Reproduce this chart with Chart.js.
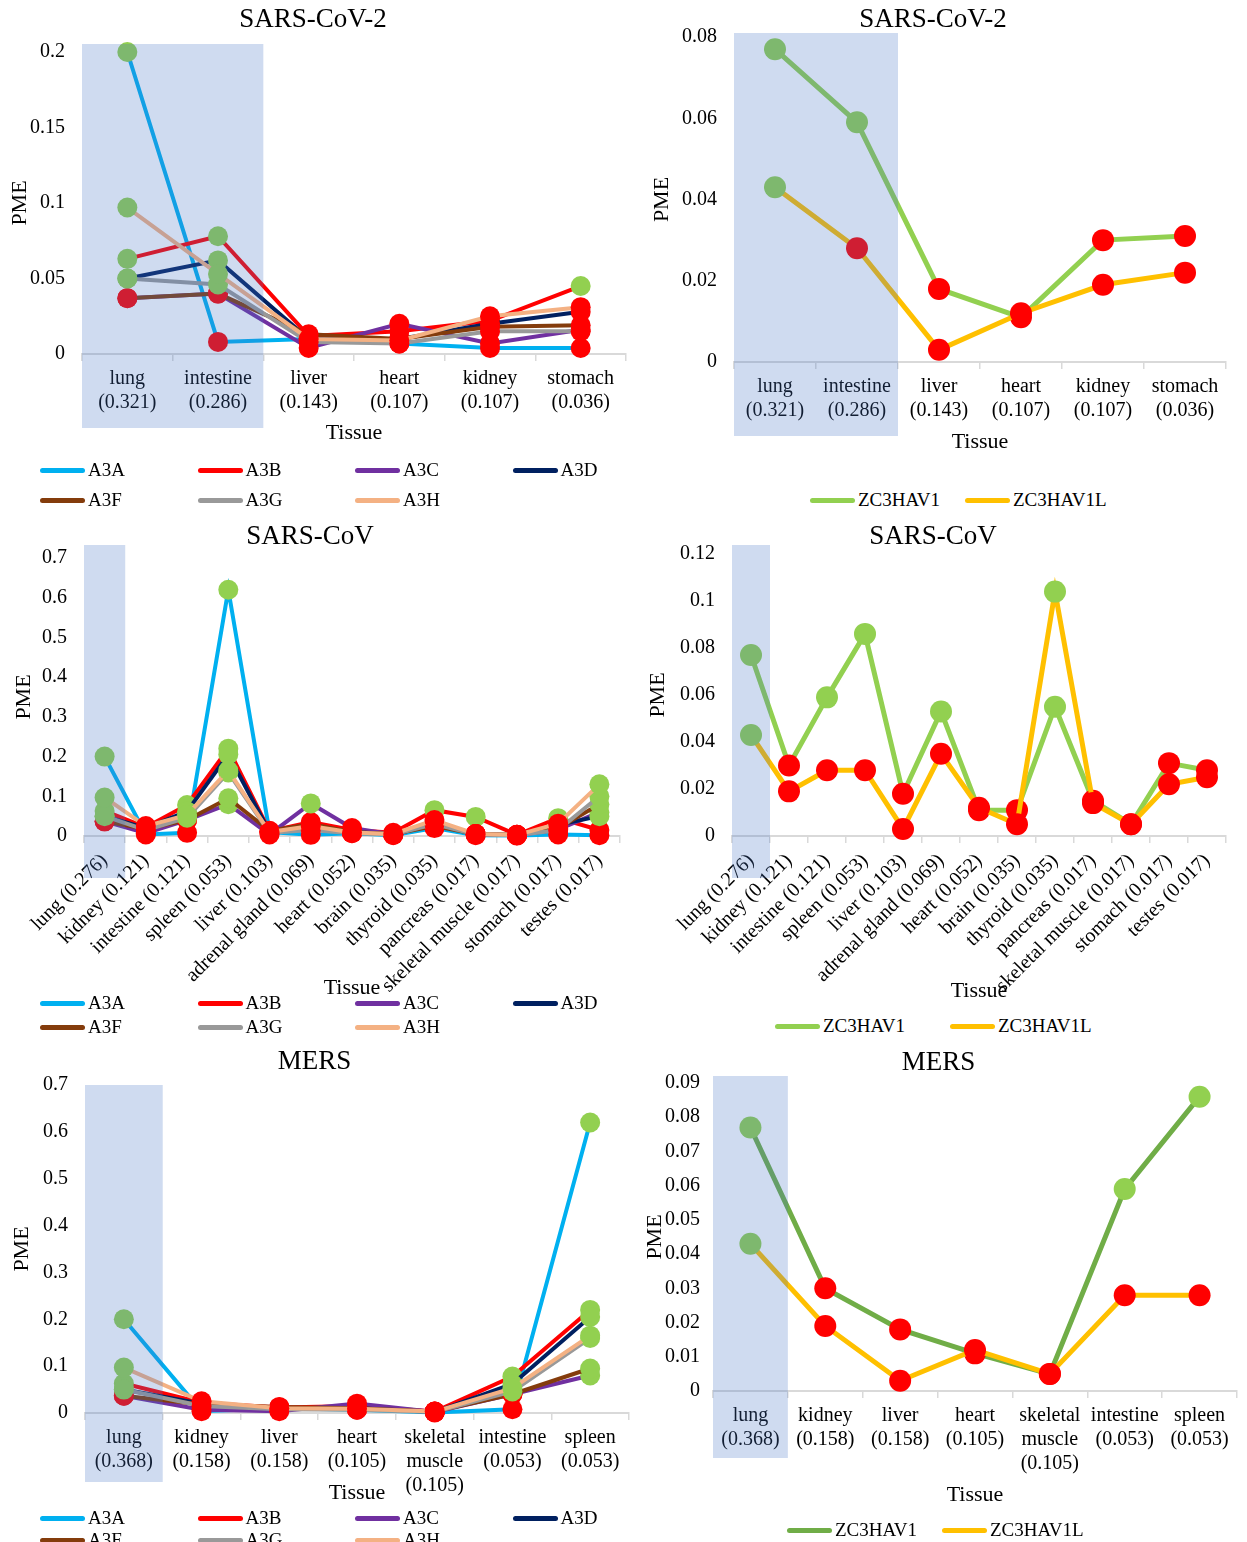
<!DOCTYPE html>
<html>
<head>
<meta charset="utf-8">
<script src="https://cdn.jsdelivr.net/npm/chart.js@4.4.0/dist/chart.umd.min.js"></script>
<style>
  body { margin: 0; background: #fff; width: 1247px; height: 1542px; position: relative; overflow: hidden;
         font-family: "Liberation Serif", "Times New Roman", serif; }
  .panel { position: absolute; }
  .legend { position: absolute; display: grid; font-size: 19px; color: #000; }
  .legend .item { display: flex; align-items: center; white-space: nowrap; }
  .legend .item i { display: inline-block; width: 45px; height: 5px; border-radius: 3px; margin-right: 3px; }
</style>
</head>
<body>
<div class="panel" style="left:0;top:0;width:630px;height:452px"><canvas id="c1"></canvas></div>
<div class="panel" style="left:640px;top:0;width:607px;height:456px"><canvas id="c2"></canvas></div>
<div class="panel" style="left:0;top:518px;width:630px;height:482px"><canvas id="c3"></canvas></div>
<div class="panel" style="left:640px;top:518px;width:607px;height:482px"><canvas id="c4"></canvas></div>
<div class="panel" style="left:0;top:1042px;width:630px;height:465px"><canvas id="c5"></canvas></div>
<div class="panel" style="left:640px;top:1042px;width:607px;height:470px"><canvas id="c6"></canvas></div>

<div class="legend" id="l1" style="left:40px;top:455px;grid-template-columns:repeat(4,157.5px);grid-auto-rows:30px"></div>
<div class="legend" id="l2" style="left:810px;top:488px;grid-template-columns:repeat(2,155px);grid-auto-rows:24px"></div>
<div class="legend" id="l3" style="left:40px;top:991px;grid-template-columns:repeat(4,157.5px);grid-auto-rows:24px"></div>
<div class="legend" id="l4" style="left:775px;top:1014px;grid-template-columns:repeat(2,175px);grid-auto-rows:24px"></div>
<div class="legend" id="l5" style="left:40px;top:1507px;grid-template-columns:repeat(4,157.5px);grid-auto-rows:22px"></div>
<div class="legend" id="l6" style="left:787px;top:1518px;grid-template-columns:repeat(2,155px);grid-auto-rows:24px"></div>

<script>
// tissue order used by the value arrays below
const tissues = ["lung", "kidney", "intestine", "spleen", "liver", "adrenal gland", "heart",
                 "brain", "thyroid", "pancreas", "skeletal muscle", "stomach", "testes"];

// PME per tissue (same order as tissues)
const A3A = [0.200, 0.004, 0.008, 0.620, 0.010, 0.003, 0.007, 0.002, 0.020, 0.002, 0.001, 0.004, 0.002];
const A3B = [0.063, 0.022, 0.078, 0.220, 0.012, 0.035, 0.015, 0.008, 0.065, 0.048, 0.003, 0.045, 0.015];
const A3C = [0.037, 0.007, 0.040, 0.080, 0.004, 0.082, 0.020, 0.004, 0.030, 0.005, 0.002, 0.016, 0.060];
const A3D = [0.050, 0.020, 0.062, 0.205, 0.010, 0.020, 0.010, 0.004, 0.030, 0.005, 0.002, 0.028, 0.050];
const A3F = [0.037, 0.018, 0.040, 0.095, 0.013, 0.030, 0.010, 0.005, 0.025, 0.005, 0.003, 0.019, 0.080];
const A3G = [0.050, 0.015, 0.046, 0.160, 0.008, 0.015, 0.007, 0.004, 0.030, 0.004, 0.002, 0.015, 0.100];
const A3H = [0.097, 0.025, 0.053, 0.165, 0.010, 0.025, 0.009, 0.005, 0.040, 0.005, 0.003, 0.031, 0.130];
const ZC3HAV1  = [0.077, 0.030, 0.059, 0.086, 0.018, 0.053, 0.011, 0.011, 0.055, 0.015, 0.005, 0.031, 0.028];
const ZC3HAV1L = [0.043, 0.019, 0.028, 0.028, 0.003, 0.035, 0.012, 0.005, 0.104, 0.014, 0.005, 0.022, 0.025];

const a3Genes = ["A3A", "A3B", "A3C", "A3D", "A3F", "A3G", "A3H"];
const a3Values = [A3A, A3B, A3C, A3D, A3F, A3G, A3H];
const a3Colors = ["#00b0f0", "#ff0000", "#7030a0", "#002060", "#843c0c", "#999999", "#f4b183"];

// tissues and weights shown in each virus panel
const cov2Tissues = ["lung", "intestine", "liver", "heart", "kidney", "stomach"];
const cov2Weights = ["0.321", "0.286", "0.143", "0.107", "0.107", "0.036"];
const covTissues = ["lung", "kidney", "intestine", "spleen", "liver", "adrenal gland", "heart",
                    "brain", "thyroid", "pancreas", "skeletal muscle", "stomach", "testes"];
const covWeights = ["0.276", "0.121", "0.121", "0.053", "0.103", "0.069", "0.052",
                    "0.035", "0.035", "0.017", "0.017", "0.017", "0.017"];
const mersTissues = ["lung", "kidney", "liver", "heart", "skeletal muscle", "intestine", "spleen"];
const mersWeights = ["0.368", "0.158", "0.158", "0.105", "0.105", "0.053", "0.053"];

const CUT = 0.042;  // markers above this are green
const GREEN = "#92d050", RED = "#ff0000";

Chart.defaults.font.family = '"Liberation Serif", "Times New Roman", serif';
Chart.defaults.color = "#000";

// translucent blue band over the top-weighted tissues
const shadePlugin = {
  id: "shade",
  afterDatasetsDraw(chart, args, opts) {
    const x = chart.scales.x, area = chart.chartArea, ctx = chart.ctx;
    const half = (x.getPixelForValue(1) - x.getPixelForValue(0)) / 2;
    const right = x.getPixelForValue(opts.count - 1) + half;
    ctx.save();
    ctx.fillStyle = "rgba(68,114,196,0.26)";
    ctx.fillRect(area.left, area.top - opts.above, right - area.left,
                 area.bottom - area.top + opts.above + opts.below);
    ctx.restore();
  }
};

function val(arr, name) { return arr[tissues.indexOf(name)]; }

function stackedLabels(names, weights) {
  return names.map((n, i) => n.split(" ").concat("(" + weights[i] + ")"));
}

function a3Sets(names) {
  return a3Genes.map((g, i) => ({
    label: g,
    data: names.map(n => val(a3Values[i], n)),
    borderColor: a3Colors[i],
    backgroundColor: a3Colors[i],
    borderWidth: 4,
    pointRadius: 10,
    order: a3Genes.length - i
  }));
}

function zcSets(names, mainColor) {
  return [
    { label: "ZC3HAV1", data: names.map(n => val(ZC3HAV1, n)), borderColor: mainColor, order: 2 },
    { label: "ZC3HAV1L", data: names.map(n => val(ZC3HAV1L, n)), borderColor: "#ffc000", order: 1 }
  ].map(d => Object.assign(d, { backgroundColor: d.borderColor, borderWidth: 5, pointRadius: 11 }));
}

function makeChart(id, cfg) {
  const el = document.getElementById(id);
  const W = el.parentNode.clientWidth, H = el.parentNode.clientHeight;
  const g = cfg.geom;
  const titleLH = 27 * 1.2, axLH = 22 * 1.2;
  cfg.datasets.forEach(d => {
    d.clip = false;
    d.tension = 0;
    d.pointBorderWidth = 0;
    d.pointBackgroundColor = c => (c.raw > CUT ? GREEN : RED);
  });
  return new Chart(el, {
    type: "line",
    data: { labels: cfg.labels, datasets: cfg.datasets },
    options: {
      responsive: true,
      maintainAspectRatio: false,
      animation: false,
      events: [],
      layout: { autoPadding: false, padding: { left: 0, top: 0, bottom: 0, right: W - g.right } },
      plugins: {
        legend: { display: false },
        tooltip: { enabled: false },
        title: {
          display: true,
          text: cfg.title,
          color: "#000",
          font: { size: 27, weight: "normal" },
          padding: { top: g.titleY - titleLH / 2, bottom: g.top - g.titleY - titleLH / 2 }
        },
        shade: cfg.shade
      },
      scales: {
        x: {
          offset: true,
          grid: { display: true, drawOnChartArea: false, drawTicks: true, tickLength: 7,
                  offset: true, color: "#d9d9d9", lineWidth: 1.5 },
          border: { display: true, color: "#d9d9d9", width: 2 },
          ticks: { font: { size: 20 }, color: "#000", padding: 6, autoSkip: false,
                   maxRotation: cfg.rot, minRotation: cfg.rot },
          title: { display: true, text: "Tissue", color: "#000", font: { size: 22 },
                   padding: { top: 0, bottom: H - g.xTitleY - axLH / 2 } },
          afterFit: s => { s.height = H - g.bottom; }
        },
        y: {
          min: 0,
          max: cfg.yMax,
          grid: { display: false, drawTicks: false },
          border: { display: false },
          ticks: { stepSize: cfg.yStep, font: { size: 20 }, color: "#000", padding: g.tickPad,
                   callback: v => String(+v.toFixed(3)) },
          title: { display: true, text: "PME", color: "#000", font: { size: 22 },
                   padding: { top: g.pmeX - axLH / 2, bottom: 0 } },
          afterFit: s => { s.width = g.left; }
        }
      }
    },
    plugins: [shadePlugin]
  });
}

function htmlLegend(chart, id) {
  const box = document.getElementById(id);
  chart.data.datasets.forEach(ds => {
    const item = document.createElement("span");
    item.className = "item";
    const sw = document.createElement("i");
    sw.style.background = ds.borderColor;
    item.appendChild(sw);
    item.appendChild(document.createTextNode(ds.label));
    box.appendChild(item);
  });
}

const c1 = makeChart("c1", {
  title: "SARS-CoV-2", labels: stackedLabels(cov2Tissues, cov2Weights), datasets: a3Sets(cov2Tissues),
  yMax: 0.2, yStep: 0.05, rot: 0,
  geom: { titleY: 20, top: 52, bottom: 354, xTitleY: 433, left: 82, right: 626, tickPad: 17, pmeX: 20 },
  shade: { count: 2, above: 8, below: 74 }
});
const c2 = makeChart("c2", {
  title: "SARS-CoV-2", labels: stackedLabels(cov2Tissues, cov2Weights), datasets: zcSets(cov2Tissues, "#92d050"),
  yMax: 0.08, yStep: 0.02, rot: 0,
  geom: { titleY: 20, top: 37, bottom: 362, xTitleY: 442, left: 94, right: 586, tickPad: 17, pmeX: 22 },
  shade: { count: 2, above: 4, below: 74 }
});
const c3 = makeChart("c3", {
  title: "SARS-CoV", labels: covTissues.map((n, i) => n + " (" + covWeights[i] + ")"), datasets: a3Sets(covTissues),
  yMax: 0.7, yStep: 0.1, rot: 45,
  geom: { titleY: 19, top: 40, bottom: 318, xTitleY: 470, left: 84, right: 620, tickPad: 17, pmeX: 24 },
  shade: { count: 1, above: 13, below: 42 }
});
const c4 = makeChart("c4", {
  title: "SARS-CoV", labels: covTissues.map((n, i) => n + " (" + covWeights[i] + ")"), datasets: zcSets(covTissues, "#92d050"),
  yMax: 0.12, yStep: 0.02, rot: 45,
  geom: { titleY: 19, top: 36, bottom: 318, xTitleY: 473, left: 92, right: 586, tickPad: 17, pmeX: 18 },
  shade: { count: 1, above: 9, below: 42 }
});
const c5 = makeChart("c5", {
  title: "MERS", labels: stackedLabels(mersTissues, mersWeights), datasets: a3Sets(mersTissues),
  yMax: 0.7, yStep: 0.1, rot: 0,
  geom: { titleY: 20, top: 43, bottom: 371, xTitleY: 451, left: 85, right: 629, tickPad: 17, pmeX: 22 },
  shade: { count: 1, above: 0, below: 69 }
});
const c6 = makeChart("c6", {
  title: "MERS", labels: stackedLabels(mersTissues, mersWeights), datasets: zcSets(mersTissues, "#70ad47"),
  yMax: 0.09, yStep: 0.01, rot: 0,
  geom: { titleY: 21, top: 41, bottom: 349, xTitleY: 453, left: 73, right: 597, tickPad: 13, pmeX: 15 },
  shade: { count: 1, above: 7, below: 67 }
});

htmlLegend(c1, "l1");
htmlLegend(c2, "l2");
htmlLegend(c3, "l3");
htmlLegend(c4, "l4");
htmlLegend(c5, "l5");
htmlLegend(c6, "l6");
</script>
</body>
</html>
